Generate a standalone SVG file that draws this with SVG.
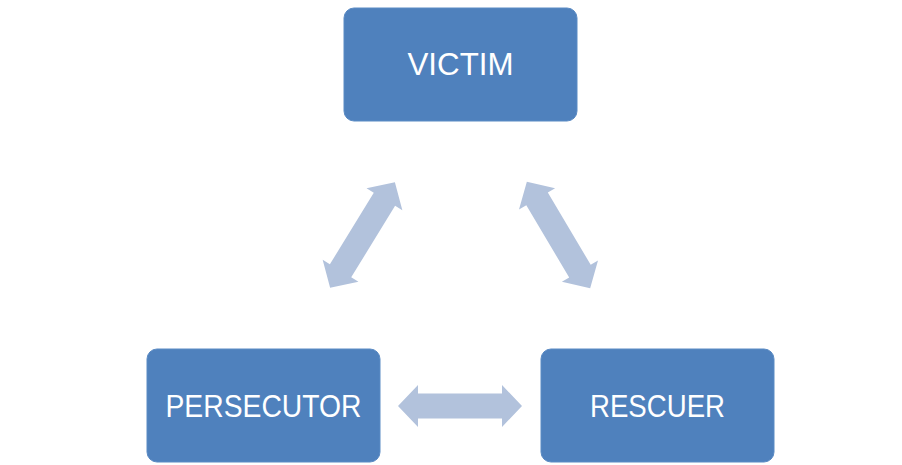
<svg xmlns="http://www.w3.org/2000/svg" width="902" height="465" viewBox="0 0 902 465">
<style>
.box{fill:#4F81BD;stroke:#5B8BC4;stroke-width:1}
.lbl{font-family:"Liberation Sans",Arial,sans-serif;font-size:32px;fill:#FFFFFF;text-anchor:middle}
.arr{fill:#B2C2DC}
</style>
<defs>
<polygon id="dbl" points="-62,0 -42,-21 -42,-12.5 42,-12.5 42,-21 62,0 42,21 42,12.5 -42,12.5 -42,21"/>
</defs>
<rect width="902" height="465" fill="#FFFFFF"/>
<g id="connectors" class="arr">
<use href="#dbl" transform="translate(362.5,235) rotate(-58.5)"/>
<use href="#dbl" transform="translate(558.5,235) rotate(59.3)"/>
<use href="#dbl" transform="translate(460,406)"/>
</g>
<g id="victim">
<rect class="box" x="344" y="8" width="233" height="113" rx="10"/>
<text class="lbl" x="460.5" y="75" textLength="106" lengthAdjust="spacingAndGlyphs">VICTIM</text>
</g>
<g id="persecutor">
<rect class="box" x="147" y="349" width="233" height="113" rx="10"/>
<text class="lbl" x="263.5" y="417" textLength="196" lengthAdjust="spacingAndGlyphs">PERSECUTOR</text>
</g>
<g id="rescuer">
<rect class="box" x="541" y="349" width="233" height="113" rx="10"/>
<text class="lbl" x="657.5" y="417" textLength="135" lengthAdjust="spacingAndGlyphs">RESCUER</text>
</g>
</svg>
